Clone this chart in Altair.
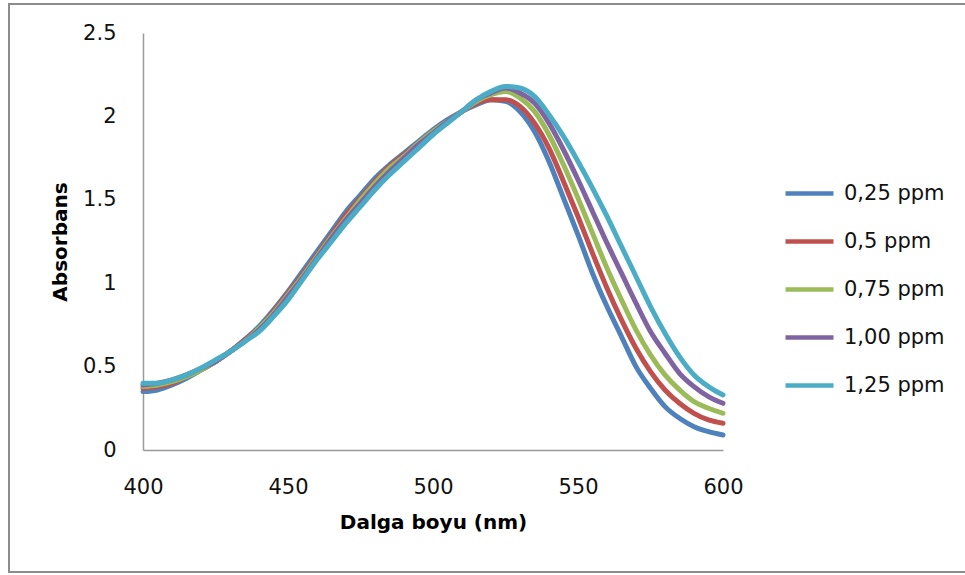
import altair as alt
import pandas as pd

wavelength = list(range(400, 601, 5))

series_names = ["0,25 ppm", "0,5 ppm", "0,75 ppm", "1,00 ppm", "1,25 ppm"]
colors = ["#4F81BD", "#C0504D", "#9BBB59", "#8064A2", "#4BACC6"]

abs_025 = [0.35, 0.36, 0.39, 0.43, 0.48, 0.53, 0.59, 0.66, 0.74, 0.84,
           0.95, 1.07, 1.19, 1.31, 1.43, 1.53, 1.63, 1.71, 1.78, 1.85,
           1.92, 1.98, 2.03, 2.07, 2.10, 2.09, 2.03, 1.91, 1.73, 1.51,
           1.29, 1.06, 0.86, 0.68, 0.50, 0.37, 0.26, 0.19, 0.14, 0.11, 0.09]
abs_050 = [0.37, 0.38, 0.40, 0.44, 0.48, 0.53, 0.59, 0.66, 0.73, 0.83,
           0.94, 1.05, 1.17, 1.29, 1.41, 1.51, 1.61, 1.70, 1.77, 1.84,
           1.91, 1.97, 2.03, 2.08, 2.10, 2.10, 2.06, 1.96, 1.81, 1.61,
           1.40, 1.18, 0.97, 0.78, 0.61, 0.47, 0.36, 0.28, 0.22, 0.18, 0.16]
abs_075 = [0.38, 0.39, 0.41, 0.44, 0.48, 0.53, 0.59, 0.65, 0.73, 0.82,
           0.93, 1.04, 1.16, 1.28, 1.39, 1.50, 1.60, 1.69, 1.76, 1.84,
           1.91, 1.97, 2.03, 2.09, 2.13, 2.15, 2.11, 2.03, 1.89, 1.71,
           1.51, 1.30, 1.09, 0.90, 0.72, 0.57, 0.45, 0.36, 0.29, 0.25, 0.22]
abs_100 = [0.39, 0.40, 0.42, 0.45, 0.49, 0.53, 0.59, 0.65, 0.72, 0.81,
           0.92, 1.03, 1.15, 1.27, 1.38, 1.48, 1.58, 1.67, 1.75, 1.83,
           1.90, 1.97, 2.03, 2.10, 2.14, 2.17, 2.14, 2.08, 1.96, 1.80,
           1.62, 1.43, 1.24, 1.06, 0.88, 0.71, 0.58, 0.46, 0.38, 0.32, 0.28]
abs_125 = [0.40, 0.40, 0.42, 0.45, 0.49, 0.54, 0.59, 0.65, 0.71, 0.80,
           0.90, 1.02, 1.14, 1.25, 1.36, 1.46, 1.56, 1.65, 1.73, 1.81,
           1.89, 1.96, 2.03, 2.10, 2.15, 2.18, 2.17, 2.12, 2.01, 1.88,
           1.73, 1.57, 1.40, 1.22, 1.04, 0.86, 0.70, 0.56, 0.45, 0.38, 0.33]

all_series = [abs_025, abs_050, abs_075, abs_100, abs_125]

rows = []
for name, vals in zip(series_names, all_series):
    for w, v in zip(wavelength, vals):
        rows.append({"wl": w, "abs": v, "seri": name})
df = pd.DataFrame(rows)

FONT = "DejaVu Sans"

lines = alt.Chart(df).mark_line(
    strokeWidth=5, strokeCap="round", strokeJoin="round", interpolate="monotone"
).encode(
    x=alt.X("wl:Q", title="Dalga boyu (nm)",
            scale=alt.Scale(domain=[400, 600], nice=False, zero=False),
            axis=alt.Axis(values=[400, 450, 500, 550, 600], grid=False, ticks=False,
                          labelFlush=False, labelOverlap=False,
                          domainColor="#9a9a9a", domainWidth=1.5,
                          labelFont=FONT, labelFontSize=21, labelColor="#111",
                          labelPadding=26, titleFont=FONT, titleFontSize=20,
                          titleFontWeight="bold", titleColor="#000", titlePadding=15)),
    y=alt.Y("abs:Q", title="Absorbans",
            scale=alt.Scale(domain=[0, 2.5], nice=False),
            axis=alt.Axis(values=[0, 0.5, 1, 1.5, 2, 2.5], grid=False, ticks=False,
                          format="~g", labelFlush=False, labelOverlap=False,
                          domainColor="#9a9a9a", domainWidth=1.5,
                          labelFont=FONT, labelFontSize=21, labelColor="#111",
                          labelPadding=27, titleFont=FONT, titleFontSize=20,
                          titleFontWeight="bold", titleColor="#000", titlePadding=12)),
    color=alt.Color("seri:N", title=None,
                    scale=alt.Scale(domain=series_names, range=colors),
                    legend=alt.Legend(orient="none", legendX=640, legendY=134,
                                      symbolType="stroke", symbolSize=2304,
                                      symbolStrokeWidth=4.5, labelFont=FONT,
                                      labelFontSize=21, labelColor="#111",
                                      labelOffset=8, rowPadding=11)),
)

frame = alt.Chart(alt.Data(values=[{}])).mark_rect(
    filled=False, stroke="#8c8c8c", strokeWidth=2
).encode(
    x=alt.value(-134), x2=alt.value(840), y=alt.value(-29), y2=alt.value(539)
)

chart = alt.layer(frame, lines).properties(
    width=580, height=417,
    padding={"left": 143, "top": 33, "right": 242, "bottom": 125},
    autosize=alt.AutoSizeParams(type="none"),
    background="white",
).configure_view(stroke=None)

chart.save("out.html", embed_options={"renderer": "svg", "actions": False})
